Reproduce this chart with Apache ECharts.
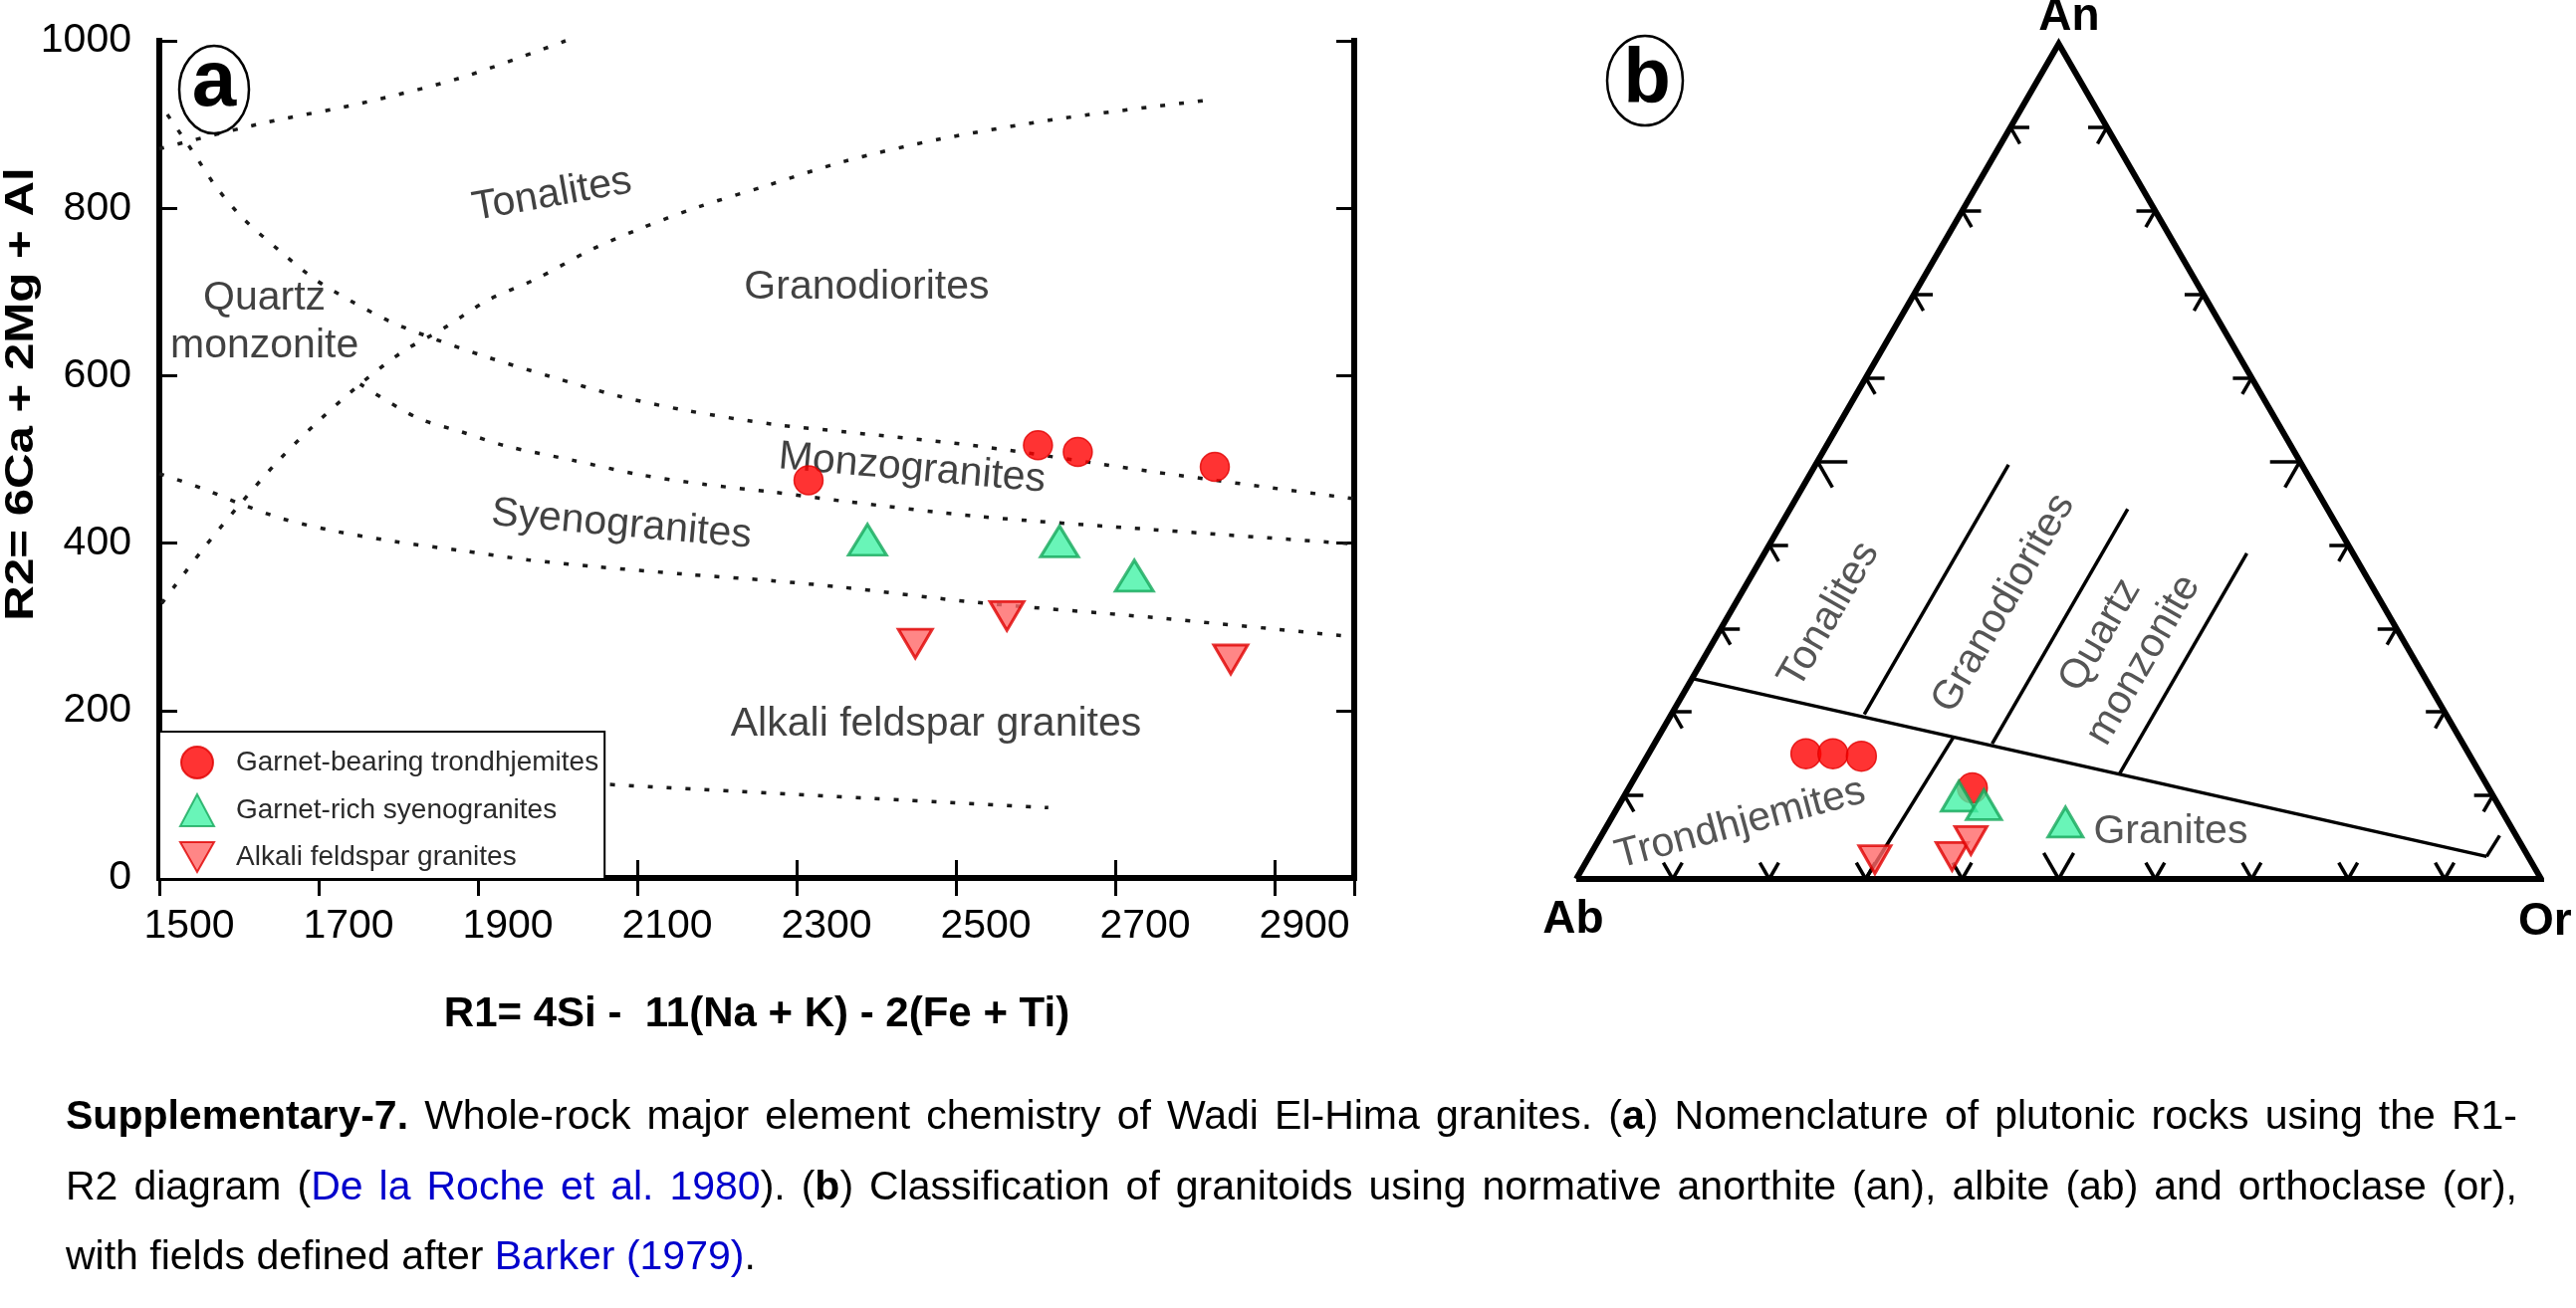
<!DOCTYPE html>
<html>
<head>
<meta charset="utf-8">
<script src="https://cdn.jsdelivr.net/npm/echarts@6.0.0/dist/echarts.min.js"></script>
<style>
  html, body { margin: 0; padding: 0; background: #fff; }
  #chart { width: 2587px; height: 1314px; }
</style>
</head>
<body>
<div id="chart"></div>
<script>
const FONT = '"Liberation Sans", Arial, sans-serif';

// ---- panel a : R1-R2 samples ----
const trondR1 = [2315, 2603, 2653, 2825];
const trondR2 = [475, 517, 509, 491];
const syenoR1 = [2389, 2630, 2724];
const syenoR2 = [404, 402, 361];
const alkaliR1 = [2449, 2564, 2845];
const alkaliR2 = [280, 313, 261];

// field boundaries (dotted), [R1, R2]
const bndTop = [[1500, 871], [1627, 901], [1756, 926], [1879, 956], [2010, 1000]];
const bndRising = [[1503, 328], [1518, 347], [1555, 393], [1599, 444], [1650, 499], [1700, 546], [1756, 593],
  [1806, 629], [1856, 656], [1912, 690], [1974, 716], [2041, 750], [2102, 775], [2175, 801], [2259, 826],
  [2360, 856], [2482, 883], [2638, 908], [2816, 929]];
const bndTonalite = [[1510, 912], [1541, 869], [1571, 826], [1605, 788], [1650, 750], [1694, 716], [1739, 690],
  [1789, 665], [1845, 644], [1912, 622], [1991, 599], [2075, 576], [2158, 559], [2270, 542], [2360, 533],
  [2527, 516], [2749, 485], [3000, 453]];
const bndMonzo = [[1752, 590], [1823, 550], [1879, 533], [1935, 516], [2019, 499], [2102, 482], [2186, 470],
  [2270, 461], [2360, 450], [2527, 432], [2749, 416], [3000, 399]];
const bndSyeno = [[1500, 483], [1555, 465], [1599, 448], [1655, 429], [1722, 414], [1795, 402], [1879, 391],
  [1963, 380], [2047, 372], [2158, 363], [2270, 355], [2360, 347], [2527, 329], [2749, 311], [3000, 288]];
const bndAlkali = [[1900, 122], [2059, 112], [2616, 84]];

const fieldNames = ['Tonalites', 'Quartz\nmonzonite', 'Granodiorites', 'Monzogranites', 'Syenogranites', 'Alkali feldspar granites'];
const fieldR1 = [1993, 1632, 2388, 2445, 2080, 2475];
const fieldR2 = [816, 664, 706, 489, 422, 183];
const fieldRotate = [10, 0, 0, -5, -5, 0];

const xTicks = { min: 1500, max: 3000, step: 200 };
const yTicks = { min: 0, max: 1000, step: 200 };

// ---- panel b : An-Ab-Or ternary, values as [An, Or] in % ----
const ternTrondAn = [15.0, 15.0, 14.7, 10.9];
const ternTrondOr = [16.3, 19.1, 22.2, 35.6];
const ternSyenoAn = [9.9, 8.9, 6.8];
const ternSyenoOr = [34.7, 37.8, 47.3];
const ternAlkaliAn = [2.3, 2.7, 4.6];
const ternAlkaliOr = [29.8, 37.6, 38.6];

const ternCorners = [[0, 0], [0, 100], [100, 0], [0, 0]];
const ternFieldLines = [
  [[24.0, 0], [2.7, 93.0]],
  [[2.7, 93.0], [5.2, 93.1]],
  [[19.7, 20.0], [49.6, 20.0]],
  [[16.2, 35.0], [44.3, 35.0]],
  [[12.6, 50.0], [39.0, 50.0]],
  [[0, 30.0], [17.0, 30.6]]
];
const ternTickSteps = [10, 20, 30, 40, 50, 60, 70, 80, 90];

const ternLabelNames = ['Tonalites', 'Granodiorites', 'Quartz\nmonzonite', 'Trondhjemites', 'Granites'];
const ternLabelAn = [31.6, 33.0, 27.7, 6.6, 5.6];
const ternLabelOr = [10.4, 27.8, 42.7, 13.7, 58.8];
const ternLabelRotate = [60, 60, 60, 15, 0];

const seriesNames = ['Garnet-bearing trondhjemites', 'Garnet-rich syenogranites', 'Alkali feldspar granites'];

// ---- helpers ----
const SQ = Math.sqrt(3) / 2;
function tern(an, or) { return [or + an / 2, an * SQ]; }
function zip(a, b) { return a.map((v, i) => [v, b[i]]); }

function tickSegments() {
  const segs = [];
  ternTickSteps.forEach(k => {
    const len = k === 50 ? 3.1 : 1.95;
    let p = tern(k, 0);
    segs.push([p, [p[0] + len, p[1]]], [p, [p[0] + len * 0.5, p[1] - len * SQ]]);
    p = tern(k, 100 - k);
    segs.push([p, [p[0] - len, p[1]]], [p, [p[0] - len * 0.5, p[1] - len * SQ]]);
    p = tern(0, k);
    segs.push([p, [p[0] + len * 0.5, p[1] + len * SQ]], [p, [p[0] - len * 0.5, p[1] + len * SQ]]);
  });
  return segs;
}

const INV_TRI = 'path://M0,0L10,0L5,8.8Z';
const circleStyle = { color: '#ff0000', borderColor: '#e00000', borderWidth: 1.5 };
const triStyle = { color: '#44f2a6', borderColor: '#14a85a', borderWidth: 3 };
const invStyle = { color: '#ff6868', borderColor: '#e00000', borderWidth: 3 };

function boundary(data) {
  return {
    type: 'line', xAxisIndex: 0, yAxisIndex: 0, data: data, smooth: 0.3,
    symbol: 'none', clip: false, silent: true, z: 1,
    lineStyle: { color: '#1a1a1a', width: 3.5, type: [5, 14] }
  };
}

// ---- caption ----
const CAP_SIZE = 41, CAP_LEFT = 66, CAP_RIGHT = 2528;
const captionY = [1123, 1194, 1264];
const captionRuns = [
  [['Supplementary-7.', 'b'], [' Whole-rock major element chemistry of Wadi El-Hima granites. (', 'n'], ['a', 'b'],
   [') Nomenclature of plutonic rocks using the R1-', 'n']],
  [['R2 diagram (', 'n'], ['De la Roche et al. 1980', 'l'], ['). (', 'n'], ['b', 'b'],
   [') Classification of granitoids using normative anorthite (an), albite (ab) and orthoclase (or),', 'n']],
  [['with fields defined after ', 'n'], ['Barker (1979)', 'l'], ['.', 'n']]
];
const meas = document.createElement('canvas').getContext('2d');
function textW(s, st) {
  meas.font = (st === 'b' ? 'bold ' : 'normal ') + CAP_SIZE + 'px ' + FONT;
  return meas.measureText(s).width;
}
function captionLine(runs, i) {
  const pieces = [];
  runs.forEach(([txt, st]) => txt.split(/( )/).forEach(p => { if (p !== '') pieces.push([p, st]); }));
  const nSp = pieces.filter(p => p[0] === ' ').length;
  const wordsW = pieces.filter(p => p[0] !== ' ').reduce((s, p) => s + textW(p[0], p[1]), 0);
  const justify = i < captionRuns.length - 1;
  const gap = justify ? (CAP_RIGHT - CAP_LEFT - wordsW) / nSp : textW(' ', 'n');
  const text = pieces.map(p => p[0] === ' ' ? '{g| }' : '{' + p[1] + '|' + p[0] + '}').join('');
  const base = { fontSize: CAP_SIZE, fontFamily: FONT, fill: '#000' };
  return {
    type: 'text', x: CAP_LEFT, y: captionY[i], silent: true,
    style: {
      text: text, fontSize: CAP_SIZE, fontFamily: FONT, fill: '#000',
      align: 'left', verticalAlign: 'middle', textAlign: 'left', textVerticalAlign: 'middle',
      rich: {
        n: Object.assign({}, base),
        b: Object.assign({}, base, { fontWeight: 'bold' }),
        l: Object.assign({}, base, { fill: '#0000cc' }),
        g: Object.assign({}, base, { width: gap })
      }
    }
  };
}

const chart = echarts.init(document.getElementById('chart'), null, { renderer: 'canvas' });

const axisLine = { show: true, lineStyle: { color: '#000', width: 6, cap: 'square' } };
const axisTick = { show: true, inside: true, length: 18, lineStyle: { color: '#000', width: 3 } };
const plainNum = v => String(v);

const option = {
  animation: false,
  backgroundColor: '#fff',
  textStyle: { fontFamily: FONT },
  grid: [
    { left: 160, top: 41, width: 1200, height: 841, containLabel: false },
    { left: 1583, top: 44, width: 969, height: 839, containLabel: false }
  ],
  xAxis: [
    {
      gridIndex: 0, type: 'value', position: 'bottom', min: xTicks.min, max: xTicks.max, interval: xTicks.step,
      axisLine: axisLine, axisTick: axisTick, splitLine: { show: false },
      axisLabel: { fontSize: 41, color: '#000', margin: 28, showMaxLabel: false, padding: [0, 0, 0, 60],
        fontFamily: FONT, formatter: plainNum },
      name: 'R1= 4Si -  11(Na + K) - 2(Fe + Ti)', nameLocation: 'middle', nameGap: 116,
      nameTextStyle: { fontSize: 42, fontWeight: 'bold', color: '#000', fontFamily: FONT }
    },
    {
      gridIndex: 0, type: 'value', position: 'top', min: xTicks.min, max: xTicks.max, interval: xTicks.step,
      axisLine: axisLine, axisTick: axisTick, axisLabel: { show: false }, splitLine: { show: false }
    },
    { gridIndex: 1, type: 'value', min: 0, max: 100, show: false }
  ],
  yAxis: [
    {
      gridIndex: 0, type: 'value', position: 'left', min: yTicks.min, max: yTicks.max, interval: yTicks.step,
      axisLine: axisLine, axisTick: axisTick, splitLine: { show: false },
      axisLabel: { fontSize: 41, color: '#000', margin: 28, fontFamily: FONT, formatter: plainNum }
    },
    {
      gridIndex: 0, type: 'value', position: 'right', min: yTicks.min, max: yTicks.max, interval: yTicks.step,
      axisLine: axisLine, axisTick: axisTick, axisLabel: { show: false }, splitLine: { show: false }
    },
    { gridIndex: 1, type: 'value', min: 0, max: 100 * SQ, show: false }
  ],
  legend: {
    data: seriesNames, orient: 'vertical', left: 160, top: 735,
    padding: [14, 6, 6, 20], itemWidth: 34, itemHeight: 32, itemGap: 14,
    backgroundColor: '#fff', borderColor: '#000', borderWidth: 2, borderRadius: 0,
    selectedMode: false, z: 5,
    textStyle: { fontSize: 28, color: '#2a2a2a', fontFamily: FONT, padding: [0, 0, 0, 17] }
  },
  series: [
    boundary(bndTop), boundary(bndRising), boundary(bndTonalite), boundary(bndMonzo), boundary(bndSyeno), boundary(bndAlkali),
    {
      type: 'scatter', xAxisIndex: 0, yAxisIndex: 0, silent: true, symbolSize: 0, z: 3,
      data: fieldNames.map((n, i) => ({ name: n, value: [fieldR1[i], fieldR2[i]], label: { rotate: fieldRotate[i] } })),
      label: { show: true, position: 'inside', formatter: '{b}', fontSize: 41, color: '#111', lineHeight: 48, align: 'center', fontFamily: FONT }
    },
    {
      name: seriesNames[0], type: 'scatter', xAxisIndex: 0, yAxisIndex: 0, symbol: 'circle', symbolSize: 29,
      data: zip(trondR1, trondR2), itemStyle: circleStyle, z: 4
    },
    {
      name: seriesNames[1], type: 'scatter', xAxisIndex: 0, yAxisIndex: 0, symbol: 'triangle', symbolSize: [38, 31],
      data: zip(syenoR1, syenoR2), itemStyle: triStyle, z: 4
    },
    {
      name: seriesNames[2], type: 'scatter', xAxisIndex: 0, yAxisIndex: 0, symbol: INV_TRI,
      symbolSize: [34, 29], data: zip(alkaliR1, alkaliR2), itemStyle: invStyle, z: 4
    },

    // ternary frame
    {
      type: 'line', xAxisIndex: 2, yAxisIndex: 2, data: ternCorners.map(c => tern(c[0], c[1])),
      symbol: 'none', clip: false, silent: true, z: 2,
      lineStyle: { color: '#000', width: 6, join: 'miter' }
    },
    {
      type: 'lines', coordinateSystem: 'cartesian2d', xAxisIndex: 2, yAxisIndex: 2, clip: false, silent: true, z: 2,
      data: tickSegments().map(s => ({ coords: s })),
      lineStyle: { color: '#000', width: 3.5, opacity: 1 }
    },
    {
      type: 'lines', coordinateSystem: 'cartesian2d', xAxisIndex: 2, yAxisIndex: 2, clip: false, silent: true, z: 2,
      data: ternFieldLines.map(s => ({ coords: s.map(c => tern(c[0], c[1])) })),
      lineStyle: { color: '#000', width: 3.5, opacity: 1 }
    },
    {
      type: 'scatter', xAxisIndex: 2, yAxisIndex: 2, silent: true, symbolSize: 0, z: 3,
      data: ternLabelNames.map((n, i) => ({ name: n, value: tern(ternLabelAn[i], ternLabelOr[i]), label: { rotate: ternLabelRotate[i] } })),
      label: { show: true, position: 'inside', formatter: '{b}', fontSize: 41, color: '#2a2a2a', lineHeight: 50, align: 'center', fontFamily: FONT }
    },
    {
      name: 'tern-trond', type: 'scatter', xAxisIndex: 2, yAxisIndex: 2, symbol: 'circle', symbolSize: 30,
      data: ternTrondAn.map((a, i) => tern(a, ternTrondOr[i])), itemStyle: circleStyle, z: 4
    },
    {
      name: 'tern-syeno', type: 'scatter', xAxisIndex: 2, yAxisIndex: 2, symbol: 'triangle', symbolSize: [35, 30],
      data: ternSyenoAn.map((a, i) => tern(a, ternSyenoOr[i])), itemStyle: triStyle, z: 4
    },
    {
      name: 'tern-alkali', type: 'scatter', xAxisIndex: 2, yAxisIndex: 2, symbol: INV_TRI,
      symbolSize: [32, 28], data: ternAlkaliAn.map((a, i) => tern(a, ternAlkaliOr[i])), itemStyle: invStyle, z: 4
    }
  ],
  graphic: [
    {
      type: 'text', x: 22, y: 396, rotation: Math.PI / 2, scaleX: 1.2, silent: true,
      style: { text: 'R2= 6Ca + 2Mg + Al', fontSize: 41, fontWeight: 'bold', fontFamily: FONT, fill: '#000',
        align: 'center', verticalAlign: 'middle', textAlign: 'center', textVerticalAlign: 'middle' }
    },
    { type: 'ellipse', shape: { cx: 215, cy: 90, rx: 35, ry: 44 }, style: { fill: 'none', stroke: '#000', lineWidth: 2.5 }, silent: true, z: 10 },
    {
      type: 'text', x: 215, y: 84, silent: true, z: 10,
      style: { text: 'a', fontSize: 80, fontWeight: 'bold', fontFamily: FONT, fill: '#000',
        align: 'center', verticalAlign: 'middle', textAlign: 'center', textVerticalAlign: 'middle' }
    },
    { type: 'ellipse', shape: { cx: 1652, cy: 81, rx: 38, ry: 45 }, style: { fill: 'none', stroke: '#000', lineWidth: 2.5 }, silent: true, z: 10 },
    {
      type: 'text', x: 1654, y: 81, silent: true, z: 10,
      style: { text: 'b', fontSize: 78, fontWeight: 'bold', fontFamily: FONT, fill: '#000',
        align: 'center', verticalAlign: 'middle', textAlign: 'center', textVerticalAlign: 'middle' }
    },
    {
      type: 'text', x: 2078, y: 17, silent: true,
      style: { text: 'An', fontSize: 46, fontWeight: 'bold', fontFamily: FONT, fill: '#000',
        align: 'center', verticalAlign: 'middle', textAlign: 'center', textVerticalAlign: 'middle' }
    },
    {
      type: 'text', x: 1580, y: 924, silent: true,
      style: { text: 'Ab', fontSize: 46, fontWeight: 'bold', fontFamily: FONT, fill: '#000',
        align: 'center', verticalAlign: 'middle', textAlign: 'center', textVerticalAlign: 'middle' }
    },
    {
      type: 'text', x: 2529, y: 926, silent: true,
      style: { text: 'Or', fontSize: 46, fontWeight: 'bold', fontFamily: FONT, fill: '#000',
        align: 'left', verticalAlign: 'middle', textAlign: 'left', textVerticalAlign: 'middle' }
    }
  ].concat(captionRuns.map(captionLine))
};

chart.setOption(option);
</script>
</body>
</html>
